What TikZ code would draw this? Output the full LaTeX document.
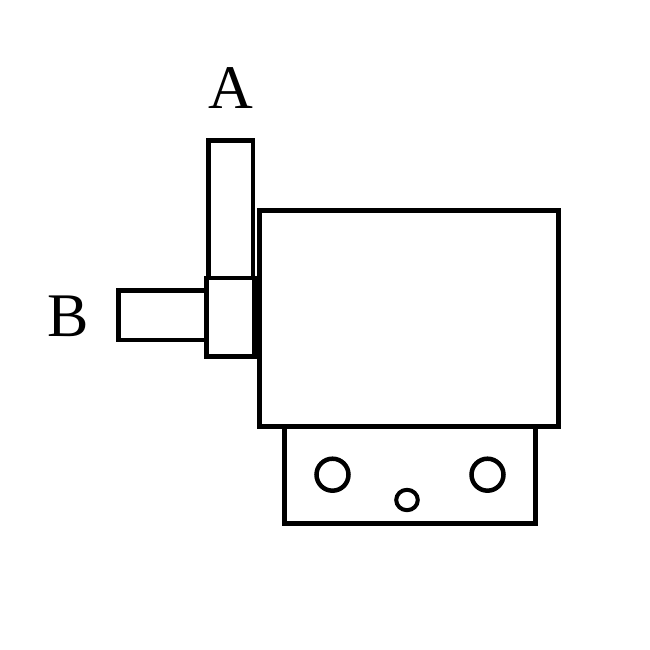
\documentclass[tikz,border=0pt]{standalone}
\usepackage{fontspec}
\setmainfont{Liberation Serif}
\tikzset{part/.style={draw=black,line width=4.6pt,fill=white,line join=miter},
hole/.style={draw=black,line width=4.5pt,fill=white},
lab/.style={font=\fontsize{62}{64}\selectfont,inner sep=0pt,text=black}}
\begin{document}
\begin{tikzpicture}[x=1pt,y=-1pt]
\useasboundingbox (0,0) rectangle (650,650);
\fill[white] (0,0) rectangle (650,650);
\draw[part] (118.5,290.5) rectangle (208,340);
\draw[part] (208.5,140.5) rectangle (253,280);
\draw[part] (284.5,425) rectangle (535.5,523.5);
\draw[part] (259.5,210.5) rectangle (558.5,426.5);
\draw[part] (206.5,278) rectangle (254.3,356.5);
\fill[black] (252,275.7) rectangle (261.8,358.8);
\draw[hole] (332.5,474.7) circle (16);
\draw[hole] (487.5,474.7) circle (16);
\draw[hole,line width=4pt] (407,500) ellipse (10.8 and 10.2);
\node[lab] (A) at (231,88.5) {A};
\node[lab] (B) at (68,316.5) {B};
\end{tikzpicture}
\end{document}
